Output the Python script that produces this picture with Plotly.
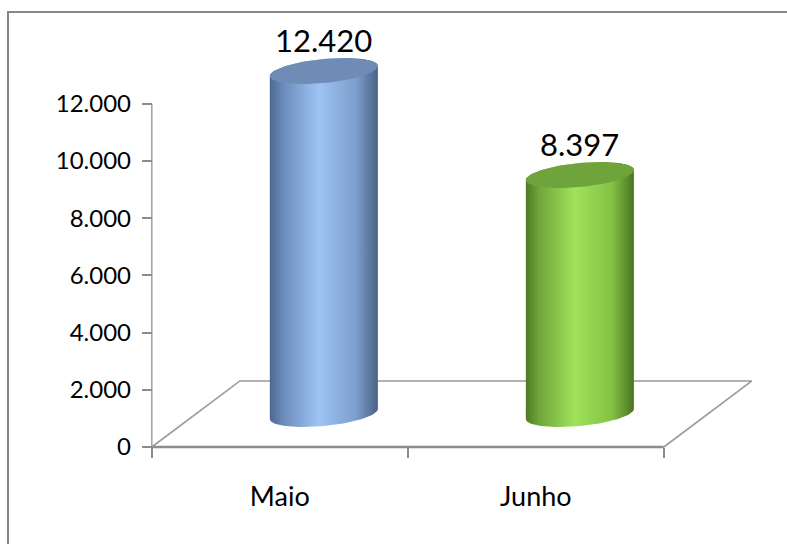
import numpy as np
import plotly.graph_objects as go

# ---------------- data ----------------
categories = ["Maio", "Junho"]
values = [12420, 8397]
y_ticks = [0, 2000, 4000, 6000, 8000, 10000, 12000]

# ---------------- styles ----------------
body_scales = [
    [[0, "#4d6890"], [0.12, "#6a8aba"], [0.45, "#9ec4f3"], [0.8, "#7c9ecb"], [1, "#4a6184"]],
    [[0, "#4d7b22"], [0.12, "#6fa53a"], [0.45, "#a0e25b"], [0.8, "#85c144"], [1, "#4a7420"]],
]
cap_colors = ["#6f8cb6", "#6ea43b"]
FONT = "Lato, Open Sans, sans-serif"
AX_COLOR = "#8c8c8c"

X_MIN, X_MAX = -0.55, 1.86
Y_MIN, Y_MAX = -315, 14930
DEPTH_X = 0.344      # floor depth in category units
DEPTH_Y = 2308       # floor depth in value units
RX = 0.211           # cylinder radius (category units)
RY = 420             # ellipse half-height (value units)
TILT = 175           # ellipse tilt (value units)
TOP_OFFSET = 1919    # perspective offset of the top plane
PERSP = 0.904        # perspective scale of heights

fig = go.Figure()

# floor (3D base)
x0, x1 = -0.5, len(categories) - 0.5
fig.add_trace(go.Scatter(
    x=[x1, x1 + DEPTH_X, x0 + DEPTH_X, x0], y=[0, DEPTH_Y, DEPTH_Y, 0],
    mode="lines", line=dict(color="#9a9a9a", width=1.6), hoverinfo="skip", showlegend=False))
fig.add_trace(go.Scatter(
    x=[x0, x1], y=[0, 0], mode="lines", line=dict(color=AX_COLOR, width=2.6),
    hoverinfo="skip", showlegend=False))
# value axis line
fig.add_trace(go.Scatter(
    x=[x0, x0], y=[0, y_ticks[-1]], mode="lines", line=dict(color="#a6a6a6", width=1.6),
    hoverinfo="skip", showlegend=False))

def ellipse(cx, cy, th):
    return (cx + RX * np.cos(th), cy + RY * np.sin(th) + TILT * np.cos(th))

for i, (cat, v) in enumerate(zip(categories, values)):
    cx = i + DEPTH_X / 2
    base_c = DEPTH_Y / 2
    top_c = TOP_OFFSET + v * PERSP
    lo = np.linspace(np.pi, 2 * np.pi, 61)
    up = np.linspace(0, np.pi, 61)
    bx, by = ellipse(cx, base_c, lo)
    tx, ty = ellipse(cx, top_c, up)
    fig.add_trace(go.Scatter(
        x=np.concatenate([bx, tx]), y=np.concatenate([by, ty]),
        fill="toself", mode="lines", line=dict(width=0),
        fillgradient=dict(type="horizontal", colorscale=body_scales[i]),
        hoverinfo="skip", showlegend=False))
    full = np.linspace(0, 2 * np.pi, 121)
    ex, ey = ellipse(cx, top_c, full)
    fig.add_trace(go.Scatter(
        x=ex, y=ey, fill="toself", mode="lines", line=dict(width=0),
        fillcolor=cap_colors[i], hoverinfo="skip", showlegend=False))
    fig.add_annotation(
        x=cx, y=top_c + RY, text=f"{v:,}".replace(",", "."), showarrow=False,
        yanchor="bottom", yshift=-2, font=dict(family=FONT, size=31, color="#000000"))

W, H = 787, 544
L, R, T, B = 139, 31, 20, 88
pw, ph = W - L - R, H - T - B

fig.update_layout(
    width=W, height=H, margin=dict(l=L, r=R, t=T, b=B),
    paper_bgcolor="white", plot_bgcolor="white", separators=",.",
    showlegend=False,
    xaxis=dict(
        range=[X_MIN, X_MAX], tickmode="array", tickvals=list(range(len(categories))),
        ticktext=categories, ticks="outside", ticklen=0, showgrid=False, zeroline=False,
        showline=False, anchor="free", position=(-Y_MIN) / (Y_MAX - Y_MIN),
        ticklabelstandoff=26, tickfont=dict(family=FONT, size=27, color="#000000"),
        minor=dict(tickmode="array", tickvals=[x0 + k for k in range(len(categories) + 1)],
                   ticks="outside", ticklen=10, tickcolor=AX_COLOR, tickwidth=2, showgrid=False),
    ),
    yaxis=dict(
        range=[Y_MIN, Y_MAX], tickmode="array", tickvals=y_ticks, tickformat=",",
        ticks="outside", ticklen=10, tickcolor=AX_COLOR, tickwidth=1.5,
        showgrid=False, zeroline=False, showline=False,
        anchor="free", position=(x0 - X_MIN) / (X_MAX - X_MIN),
        ticklabelstandoff=6,
        tickfont=dict(family=FONT, size=24, color="#000000"),
    ),
    shapes=[dict(type="rect", xref="paper", yref="paper",
                 x0=(8 - L) / pw, x1=(W + 10 - L) / pw,
                 y0=(H - B - (H + 20)) / ph, y1=(H - B - 12) / ph,
                 line=dict(color="#878787", width=2), fillcolor="rgba(0,0,0,0)", layer="below")],
)

fig.write_html(
    "out.html",
    config={"displayModeBar": False},
    post_script="document.body.style.margin='0';document.body.style.overflow='hidden';",
)
